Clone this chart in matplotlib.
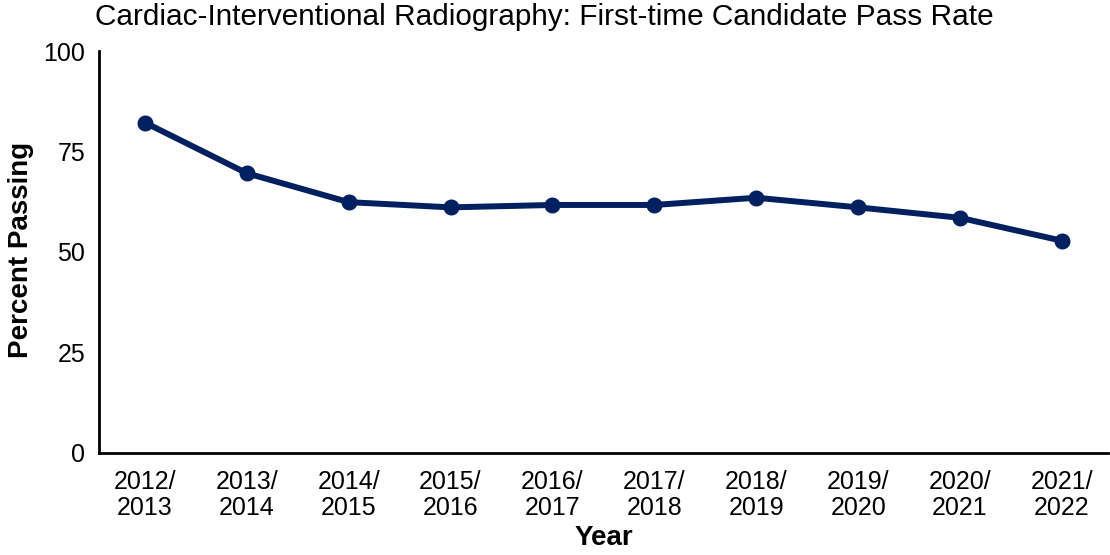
from matplotlib import pyplot as plt

years = ['2012/\n2013', '2013/\n2014', '2014/\n2015', '2015/\n2016', '2016/\n2017',
         '2017/\n2018', '2018/\n2019', '2019/\n2020', '2020/\n2021', '2021/\n2022']
pass_rate = [82.2, 69.6, 62.4, 61.1, 61.7, 61.7, 63.5, 61.1, 58.5, 52.8]
y_ticks = [0, 25, 50, 75, 100]

plt.rcParams['font.family'] = ['Liberation Sans', 'DejaVu Sans']

fig = plt.figure(figsize=(11.1, 5.55), dpi=100)
ax = fig.add_axes([0.0892, 0.1838, 0.9088, 0.7243])

x = list(range(len(years)))
ax.plot(x, pass_rate, color='#002060', linewidth=4.3, marker='o', markersize=10.5)

ax.set_xlim(-0.45, 9.45)
ax.set_ylim(0, 100)
ax.set_xticks(x)
ax.set_xticklabels(years, fontsize=18, linespacing=1.1)
ax.set_yticks(y_ticks)
ax.set_yticklabels([str(v) for v in y_ticks], fontsize=18)
ax.tick_params(axis='x', length=0, pad=12)
ax.tick_params(axis='y', length=0, pad=10)

for side in ['top', 'right']:
    ax.spines[side].set_visible(False)
for side in ['left', 'bottom']:
    ax.spines[side].set_linewidth(2)
    ax.spines[side].set_color('black')

ax.set_xlabel('Year', fontsize=20, fontweight='bold', labelpad=4)
# y label placed by hand so it is not cut at the left edge
fig.text(0.019, 0.55, 'Percent Passing', fontsize=20, fontweight='bold',
         rotation=90, ha='center', va='center')
fig.text(0.0856, 0.995, 'Cardiac-Interventional Radiography: First-time Candidate Pass Rate',
         fontsize=21.4, ha='left', va='top')

fig.savefig('out.png', dpi=100)
